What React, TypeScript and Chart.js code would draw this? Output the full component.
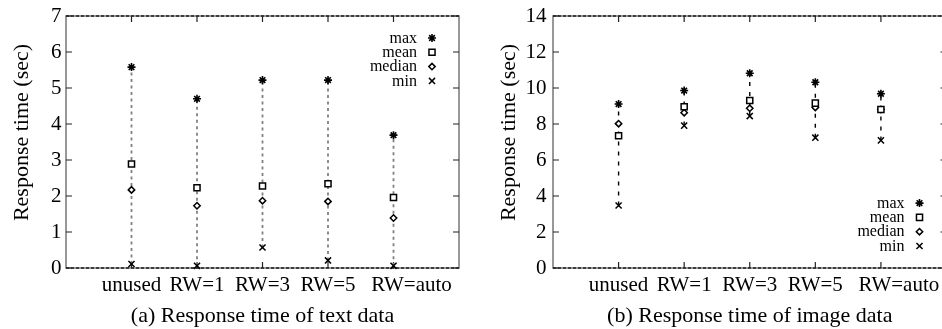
import React, { useEffect, useRef } from 'react';
import { Chart, registerables } from 'chart.js';

Chart.register(...registerables);

// ---------- data ----------
const categories = ['unused', 'RW=1', 'RW=3', 'RW=5', 'RW=auto'];
const seriesLabels = ['max', 'mean', 'median', 'min'];

const textMax = [5.58, 4.7, 5.22, 5.22, 3.69];
const textMean = [2.89, 2.23, 2.28, 2.34, 1.96];
const textMedian = [2.17, 1.73, 1.87, 1.85, 1.39];
const textMin = [0.11, 0.06, 0.57, 0.21, 0.06];

const imageMax = [9.11, 9.86, 10.82, 10.32, 9.68];
const imageMean = [7.35, 8.96, 9.31, 9.16, 8.81];
const imageMedian = [8.02, 8.63, 8.87, 8.92, 8.81];
const imageMin = [3.47, 7.91, 8.44, 7.24, 7.09];

const textYTicks = [0, 1, 2, 3, 4, 5, 6, 7];
const imageYTicks = [0, 2, 4, 6, 8, 10, 12, 14];

const yAxisTitle = 'Response time (sec)';
const textCaption = '(a) Response time of text data';
const imageCaption = '(b) Response time of image data';

// ---------- styles ----------
const FONT = '"Liberation Serif", "Times New Roman", serif';
const MARKERS = [
  { style: 'star', radius: 4, width: 1.6, fill: '#000' },
  { style: 'rect', radius: 4.3, width: 1.5, fill: '#fff' },
  { style: 'rectRot', radius: 3.2, width: 1.5, fill: '#fff' },
  { style: 'crossRot', radius: 4.3, width: 1.5, fill: '#000' },
];

function drawMarker(ctx: CanvasRenderingContext2D, style: string, x: number, y: number, r: number, lw: number, fill: string) {
  ctx.save();
  ctx.lineWidth = lw;
  ctx.strokeStyle = '#000';
  ctx.fillStyle = fill;
  ctx.beginPath();
  const s = r * Math.SQRT1_2;
  if (style === 'rect') {
    ctx.rect(x - s, y - s, 2 * s, 2 * s);
    ctx.fill();
    ctx.stroke();
  } else if (style === 'rectRot') {
    ctx.moveTo(x - r, y);
    ctx.lineTo(x, y - r);
    ctx.lineTo(x + r, y);
    ctx.lineTo(x, y + r);
    ctx.closePath();
    ctx.fill();
    ctx.stroke();
  } else if (style === 'crossRot') {
    ctx.moveTo(x - s, y - s);
    ctx.lineTo(x + s, y + s);
    ctx.moveTo(x - s, y + s);
    ctx.lineTo(x + s, y - s);
    ctx.stroke();
  } else {
    ctx.moveTo(x - r, y);
    ctx.lineTo(x + r, y);
    ctx.moveTo(x, y - r);
    ctx.lineTo(x, y + r);
    ctx.moveTo(x - s, y - s);
    ctx.lineTo(x + s, y + s);
    ctx.moveTo(x - s, y + s);
    ctx.lineTo(x + s, y - s);
    ctx.stroke();
  }
  ctx.restore();
}

const framePlugin = {
  id: 'gnuFrame',
  beforeDatasetsDraw(chart: any) {
    const { ctx, chartArea: a, scales } = chart;
    const x = scales.x;
    const y = scales.y;
    ctx.save();
    ctx.lineWidth = 1.5;
    ctx.strokeStyle = '#777';
    ctx.strokeRect(a.left, a.top, a.right - a.left, a.bottom - a.top);
    ctx.strokeStyle = '#222';
    ctx.setLineDash([3, 2]);
    ctx.beginPath();
    ctx.moveTo(a.left, a.top);
    ctx.lineTo(a.right, a.top);
    ctx.moveTo(a.left, a.bottom);
    ctx.lineTo(a.right, a.bottom);
    ctx.stroke();
    ctx.setLineDash([]);
    ctx.lineWidth = 1.2;
    ctx.strokeStyle = '#222';
    const L = 6;
    ctx.beginPath();
    y.ticks.forEach((t: any) => {
      const py = y.getPixelForValue(t.value);
      ctx.moveTo(a.left, py);
      ctx.lineTo(a.left + L, py);
      ctx.moveTo(a.right, py);
      ctx.lineTo(a.right - L, py);
    });
    x.ticks.forEach((t: any) => {
      const px = x.getPixelForValue(t.value);
      ctx.moveTo(px, a.bottom);
      ctx.lineTo(px, a.bottom - L);
      ctx.moveTo(px, a.top);
      ctx.lineTo(px, a.top + L);
    });
    ctx.stroke();
    ctx.restore();
  },
};

const labelShiftPlugin = {
  id: 'labelShift',
  beforeDraw(chart: any) {
    const opts = chart.options.plugins.labelShift || {};
    const items = chart.scales.x.getLabelItems();
    const last = items[items.length - 1];
    if (last && !last._shifted) {
      last.options.translation[0] += opts.last || 0;
      last._shifted = true;
    }
  },
};

const yTitlePlugin = {
  id: 'yTitle',
  afterDraw(chart: any) {
    const opts = chart.options.plugins.yTitle;
    const { ctx, chartArea: a } = chart;
    ctx.save();
    ctx.font = `${opts.size}px ${FONT}`;
    ctx.fillStyle = '#000';
    ctx.textAlign = 'center';
    ctx.textBaseline = 'alphabetic';
    ctx.translate(opts.baseX, (a.top + a.bottom) / 2 + opts.dy);
    ctx.rotate(-Math.PI / 2);
    ctx.fillText(opts.text, 0, 0);
    ctx.restore();
  },
};

const legendPlugin = {
  id: 'gnuLegend',
  afterDatasetsDraw(chart: any) {
    const opts = chart.options.plugins.gnuLegend;
    const { ctx, chartArea: a } = chart;
    const sets = chart.data.datasets.filter((d: any) => !d.isRange);
    const n = sets.length;
    const y0 = opts.anchor === 'top' ? a.top + opts.offset : a.bottom - opts.offset - (n - 1) * opts.rowH;
    ctx.save();
    ctx.font = `${opts.size}px ${FONT}`;
    ctx.fillStyle = '#000';
    ctx.textAlign = 'right';
    ctx.textBaseline = 'middle';
    sets.forEach((ds: any, i: number) => {
      const y = y0 + i * opts.rowH;
      ctx.fillText(ds.label, a.right - opts.textDx, y + 0.5);
      const m = MARKERS[i];
      drawMarker(ctx, m.style, a.right - opts.markerDx, y, m.radius, m.width, m.fill);
    });
    ctx.restore();
  },
};

type PanelProps = {
  left: number;
  width: number;
  yTicks: number[];
  series: number[][];
  caption: string;
  rangeColor: string;
  rangeDash: number[];
  rangeWidth: number;
  yAxisWidth: number;
  yTickPad: number;
  yTitleBaseX: number;
  padRight: number;
  legendAnchor: 'top' | 'bottom';
  legendOffset: number;
};

function Panel(p: PanelProps) {
  const ref = useRef<HTMLCanvasElement>(null);
  useEffect(() => {
    const canvas = ref.current!;
    const [mx, , , mn] = p.series;
    const rangeData: any[] = [];
    categories.forEach((_, i) => {
      rangeData.push({ x: i + 1, y: mn[i] });
      rangeData.push({ x: i + 1, y: mx[i] });
      rangeData.push({ x: i + 1, y: null });
    });
    const datasets: any[] = p.series.map((vals, si) => ({
      label: seriesLabels[si],
      data: categories.map((_, i) => ({ x: i + 1, y: vals[i] })),
      showLine: false,
      pointStyle: MARKERS[si].style,
      pointRadius: MARKERS[si].radius,
      pointBorderWidth: MARKERS[si].width,
      pointBorderColor: '#000',
      pointBackgroundColor: MARKERS[si].fill,
      borderColor: '#000',
      backgroundColor: MARKERS[si].fill,
      clip: false,
      order: 0,
    }));
    datasets.push({
      label: 'range',
      isRange: true,
      data: rangeData,
      showLine: true,
      spanGaps: false,
      borderColor: p.rangeColor,
      borderWidth: p.rangeWidth,
      borderDash: p.rangeDash,
      pointRadius: 0,
      clip: false,
      order: 10,
    });
    const ymax = p.yTicks[p.yTicks.length - 1];
    const chart = new Chart(canvas, {
      type: 'scatter',
      data: { datasets },
      plugins: [framePlugin, labelShiftPlugin, yTitlePlugin, legendPlugin],
      options: {
        responsive: false,
        animation: false,
        layout: { padding: { left: 0, top: 16, right: p.padRight, bottom: 0 } },
        plugins: {
          legend: { display: false },
          tooltip: { enabled: false },
          labelShift: { last: 18 },
          yTitle: { text: yAxisTitle, size: 22, baseX: p.yTitleBaseX, dy: -9.5 },
          gnuLegend: { anchor: p.legendAnchor, offset: p.legendOffset, rowH: 14.3, size: 16, textDx: 42, markerDx: 27 },
        } as any,
        scales: {
          x: {
            type: 'linear',
            min: 0,
            max: categories.length + 1,
            grid: { display: false, drawTicks: false },
            border: { display: false },
            afterBuildTicks: (s: any) => {
              s.ticks = categories.map((_, i) => ({ value: i + 1 }));
            },
            afterFit: (s: any) => {
              s.height = 61;
              s.paddingLeft = 0;
              s.paddingRight = 0;
            },
            ticks: {
              autoSkip: false,
              maxRotation: 0,
              minRotation: 0,
              padding: 5,
              color: '#000',
              font: { family: FONT, size: 21 },
              callback: (v: any) => categories[Math.round(v) - 1] ?? '',
            },
            title: {
              display: true,
              text: p.caption,
              color: '#000',
              font: { family: FONT, size: 22 },
              padding: { top: 0, bottom: 0 },
            },
          },
          y: {
            type: 'linear',
            min: 0,
            max: ymax,
            grid: { display: false, drawTicks: false },
            border: { display: false },
            afterBuildTicks: (s: any) => {
              s.ticks = p.yTicks.map((v) => ({ value: v }));
            },
            afterFit: (s: any) => {
              s.width = p.yAxisWidth;
              s.paddingTop = 0;
              s.paddingBottom = 0;
            },
            ticks: {
              padding: p.yTickPad,
              color: '#000',
              font: { family: FONT, size: 21 },
              callback: (v: any) => String(v),
            },
          },
        },
      } as any,
    });
    return () => chart.destroy();
  }, []);
  return (
    <canvas
      ref={ref}
      width={p.width}
      height={329}
      style={{ position: 'absolute', left: p.left, top: 0, width: p.width, height: 329, display: 'block' }}
    />
  );
}

export default function App() {
  return (
    <div
      style={{
        position: 'absolute',
        left: 0,
        top: 0,
        width: 942,
        height: 329,
        overflow: 'hidden',
        background: '#fff',
      }}
    >
      <Panel
        left={0}
        width={470}
        yTicks={textYTicks}
        series={[textMax, textMean, textMedian, textMin]}
        caption={textCaption}
        rangeColor="#808080"
        rangeDash={[3, 3.5]}
        rangeWidth={1.8}
        yAxisWidth={66}
        yTickPad={4.5}
        yTitleBaseX={27.5}
        padRight={11}
        legendAnchor="top"
        legendOffset={22}
      />
      <Panel
        left={470}
        width={490}
        yTicks={imageYTicks}
        series={[imageMax, imageMean, imageMedian, imageMin]}
        caption={imageCaption}
        rangeColor="#000"
        rangeDash={[4, 6]}
        rangeWidth={1.4}
        yAxisWidth={83}
        yTickPad={6.5}
        yTitleBaseX={45}
        padRight={13.5}
        legendAnchor="bottom"
        legendOffset={22}
      />
    </div>
  );
}
